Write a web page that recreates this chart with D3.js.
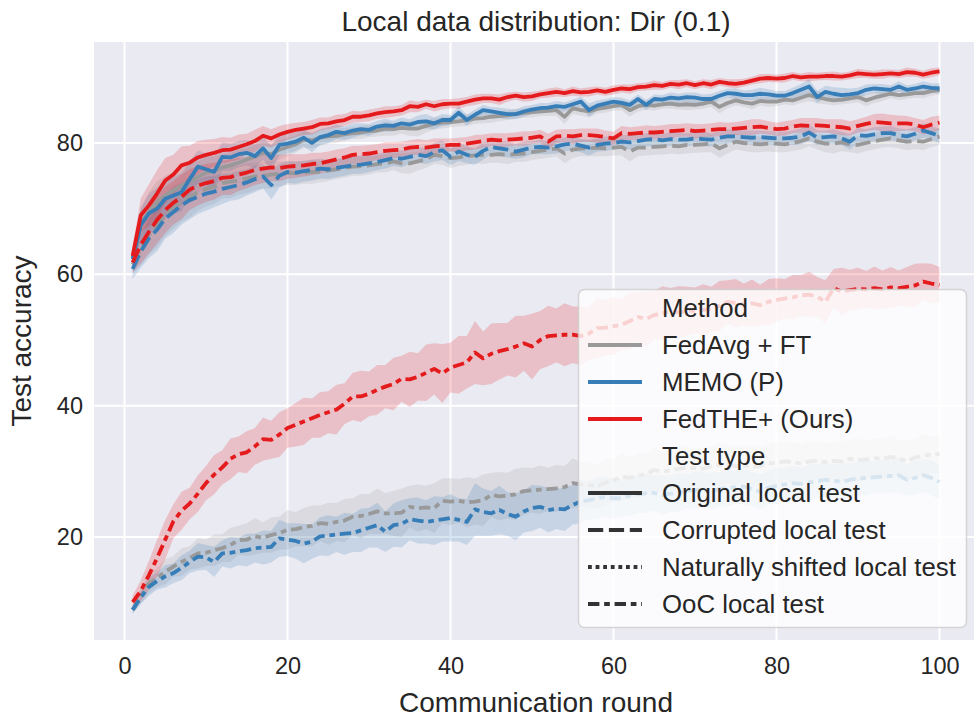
<!DOCTYPE html>
<html><head><meta charset="utf-8">
<script src="https://cdn.jsdelivr.net/npm/d3@7/dist/d3.min.js"></script>
<style>body{margin:0;background:#fff;}svg{display:block;font-family:"Liberation Sans",Arial,sans-serif;}</style>
</head><body><svg id="c" width="974" height="717"></svg>
<script>
const rounds = d3.range(1, 101);
const methods = ["FedAvg + FT", "MEMO (P)", "FedTHE+ (Ours)"];
const methodColors = ["#999999", "#377eb8", "#e41a1c"];
const testTypes = ["Original local test", "Corrupted local test", "Naturally shifted local test", "OoC local test"];
const xTicks = [0, 20, 40, 60, 80, 100];
const yTicks = [20, 40, 60, 80];

const grayOrig = [62.5,67.8,69.5,71.0,72.0,72.8,73.5,74.2,74.8,75.5,75.8,76.3,76.6,77.0,77.5,77.9,78.5,78.3,79.0,79.4,79.8,80.5,80.4,80.8,81.0,81.1,81.3,81.5,81.6,81.8,81.9,82.2,82.1,82.3,82.2,82.2,82.6,82.9,83.1,83.2,83.3,83.5,83.7,83.8,84.0,84.1,84.2,84.4,84.6,84.7,84.8,84.9,85.0,84.0,85.3,85.0,84.8,85.2,85.4,85.6,85.8,85.0,85.6,85.8,85.7,85.9,86.0,85.8,85.9,85.8,86.0,86.3,85.5,86.1,86.5,86.2,86.0,86.4,86.3,86.3,86.6,86.5,86.9,87.3,87.0,86.7,86.5,86.6,86.8,87.0,86.5,86.9,87.2,87.5,87.3,87.4,87.6,87.6,87.9,88.1];
const blueOrig = [62.3,67.5,69.3,70.0,71.5,72.0,72.5,74.5,76.4,76.0,75.6,77.9,77.8,78.3,78.5,78.0,79.2,77.7,79.7,79.9,80.2,80.8,80.0,80.9,81.2,81.7,81.5,81.9,82.1,82.0,82.5,82.7,82.6,83.0,82.8,83.2,83.3,83.0,83.5,83.5,84.6,83.5,84.3,85.0,84.8,84.6,84.4,84.4,84.8,85.1,85.3,85.4,85.6,85.5,85.9,86.3,85.0,85.7,86.0,86.3,86.1,85.8,86.7,85.8,86.7,86.6,86.9,86.8,87.0,86.9,86.7,86.7,87.2,87.6,87.5,87.3,87.3,87.5,87.4,87.2,87.2,87.6,88.1,88.6,87.0,87.8,87.5,87.3,87.4,87.6,88.1,88.3,88.2,88.1,88.6,88.1,88.3,88.6,88.4,88.3];
const redOrig = [62.8,69.0,70.5,72.3,74.3,75.2,76.6,77.0,77.8,78.2,78.5,78.9,79.0,79.4,79.8,80.3,81.1,80.7,81.3,81.7,82.0,82.2,82.4,82.9,83.0,83.3,83.5,84.0,84.0,84.2,84.5,84.7,84.8,85.0,85.6,85.5,85.9,85.6,85.9,86.0,86.0,86.3,86.6,86.8,86.8,86.6,87.0,87.2,87.0,87.1,87.4,87.6,87.8,87.6,87.9,87.7,87.8,88.0,87.8,88.1,88.3,88.2,88.5,88.6,88.8,88.7,89.0,88.9,89.1,88.8,89.1,88.9,89.3,89.1,89.0,89.2,89.5,89.8,89.9,89.8,89.9,90.2,90.0,90.1,90.1,90.2,90.2,90.1,90.3,90.6,90.5,90.4,90.5,90.6,90.5,90.8,90.7,90.4,90.7,90.9];

const grayCorr = [61.5,64.0,66.0,67.5,69.0,70.2,71.0,71.8,72.5,73.0,73.3,73.9,74.1,74.3,74.6,74.9,75.0,75.2,75.3,75.4,75.4,75.5,75.6,75.6,75.8,76.0,76.2,76.4,76.5,76.6,76.8,76.9,77.2,76.9,76.9,77.2,77.5,78.2,78.0,77.7,77.8,78.0,78.1,78.2,78.2,78.3,78.2,78.3,78.4,78.6,78.8,79.0,79.2,78.4,79.0,79.2,79.2,79.3,79.2,79.3,79.4,78.7,79.3,79.3,79.4,79.5,79.6,79.5,79.7,79.7,79.8,79.9,79.2,79.7,80.2,80.0,79.9,79.8,79.9,79.9,79.8,80.0,80.3,80.7,80.2,79.9,79.9,80.1,79.8,79.7,80.0,80.3,80.5,80.7,80.4,80.2,80.3,80.2,80.6,81.0];
const blueCorr = [60.8,63.5,65.5,66.8,68.5,69.5,70.5,71.3,71.8,72.3,72.6,73.0,73.3,73.6,74.0,74.5,74.9,73.6,75.0,75.6,75.5,75.7,75.9,76.1,76.0,76.2,76.4,76.6,76.7,76.9,77.1,77.4,77.7,77.6,77.9,78.2,78.0,78.6,78.9,77.9,78.7,78.2,77.9,78.8,79.4,79.2,79.0,78.7,79.0,79.3,79.4,79.3,79.5,79.8,79.9,79.6,79.3,79.7,79.9,80.0,80.2,80.1,80.3,80.5,80.6,80.4,80.6,80.5,80.5,80.7,80.6,80.5,80.8,81.0,81.0,80.9,80.8,80.9,80.8,80.7,80.7,80.8,81.0,81.6,80.8,80.9,81.0,80.7,80.2,81.2,81.1,81.3,81.5,81.5,81.2,81.0,81.4,81.9,81.5,81.1];
const redCorr = [61.8,64.5,66.5,68.3,69.8,70.9,71.8,72.9,73.5,73.9,74.2,74.7,74.8,75.2,75.5,75.9,76.1,76.3,76.2,76.4,76.5,76.6,76.8,76.9,77.2,77.5,77.8,78.2,78.3,78.4,78.6,78.8,78.9,79.0,79.3,79.4,79.3,79.5,79.6,79.7,79.7,79.9,80.1,80.3,80.5,80.4,80.5,80.6,80.7,80.8,81.0,80.2,81.0,81.1,81.0,81.2,81.2,81.1,80.9,80.7,81.5,81.4,81.5,81.6,81.6,81.7,81.8,81.9,82.0,81.8,81.9,82.0,82.1,82.1,82.2,82.3,82.4,82.5,82.3,82.1,82.2,82.5,82.7,82.6,82.7,82.6,82.5,82.4,82.2,82.6,82.9,83.2,83.1,83.0,83.0,83.0,82.8,82.4,82.8,83.1];

const grayOoc = [8.9,11.0,12.9,13.8,14.7,15.5,16.2,16.8,17.5,17.6,18.0,18.3,18.8,19.5,19.6,20.1,19.9,20.3,20.6,21.1,21.2,21.5,21.7,22.1,22.0,22.3,22.5,23.1,23.2,23.5,23.9,23.6,23.6,23.7,24.6,24.4,24.5,24.4,25.5,25.4,25.5,25.3,25.4,25.6,26.4,26.2,26.3,26.5,27.0,27.1,27.2,27.3,27.4,27.6,28.2,28.0,27.9,27.7,28.3,28.6,29.2,29.0,29.3,29.6,30.2,30.0,30.1,30.4,30.5,30.5,30.4,30.8,31.0,31.0,30.8,30.9,30.7,30.8,31.2,31.3,31.5,31.4,31.2,31.5,31.6,31.4,31.6,31.5,31.9,31.7,31.8,32.0,31.9,32.2,32.0,31.5,32.1,32.4,32.5,32.7];
const blueOoc = [8.9,10.8,12.4,13.3,14.0,14.5,15.3,16.2,17.0,16.9,16.2,17.5,17.6,17.8,18.0,18.3,18.4,18.5,19.8,19.6,19.4,19.0,19.3,20.1,20.2,20.4,20.5,20.6,21.0,21.4,21.8,20.8,21.8,22.0,22.7,22.5,22.3,22.5,22.7,22.9,22.6,22.3,24.2,23.8,23.6,24.1,23.5,23.1,23.9,24.4,24.6,24.1,24.3,24.2,24.9,25.4,25.6,25.9,26.1,25.9,25.9,26.3,26.5,26.7,26.7,26.4,26.6,26.8,27.0,27.1,27.2,27.0,27.3,27.5,27.6,27.7,27.3,26.9,27.5,27.8,28.0,28.2,28.1,28.3,28.5,28.7,28.6,28.4,28.7,28.9,29.0,29.1,29.2,29.3,29.4,28.7,29.0,29.4,29.0,28.4];
const redOoc = [10.1,11.8,14.2,16.8,19.6,22.4,24.0,25.1,26.6,28.2,29.5,30.6,31.9,32.6,32.9,33.8,34.9,34.8,35.6,36.6,37.1,37.6,38.1,38.6,39.0,39.4,40.3,41.4,41.4,41.8,42.4,42.9,43.3,44.1,44.0,44.4,45.0,45.6,44.9,45.8,46.2,46.6,48.1,47.2,47.9,48.3,48.6,49.0,49.5,49.0,50.0,50.6,50.7,50.8,50.8,50.6,51.0,51.8,51.9,52.1,52.3,52.9,53.5,53.2,53.8,54.1,54.3,54.2,54.4,54.5,54.6,54.7,55.2,55.8,55.6,55.4,55.6,55.3,55.8,56.1,56.3,56.5,56.8,56.9,56.6,55.8,57.9,57.4,57.6,57.8,57.7,57.9,57.7,58.0,57.9,58.1,58.3,58.9,58.6,58.4];

// confidence band half-widths
const grayOrigCi = [1.5,2.4,3.0,3.2,3.0,2.8,2.9,2.6,2.4,2.3,2.2,2.0,1.9,2.0,1.7,1.8,1.6,1.5,1.5,1.4,1.3,1.3,1.2,1.2,1.1,1.1,1.0,0.9,1.0,0.9,0.9,1.1,1.0,0.9,1.1,1.2,1.0,0.9,0.9,0.8,0.8,0.9,0.8,0.8,0.9,0.8,0.7,0.8,0.7,0.8,0.7,0.8,0.9,1.1,0.9,0.8,0.9,0.7,0.8,0.7,0.8,1.0,0.8,0.7,0.8,0.7,0.8,0.7,0.9,0.7,0.8,0.8,1.0,0.8,0.8,0.7,0.9,0.7,0.8,0.7,0.7,0.8,0.8,0.9,1.0,0.8,0.8,0.7,0.8,0.8,0.9,0.8,0.8,0.7,0.8,0.7,0.7,0.8,0.7,0.7];
const blueOrigCi = [1.5,2.5,3.0,3.2,3.0,2.8,2.9,2.6,2.5,2.4,2.4,2.2,2.1,2.0,1.9,1.8,1.7,1.9,1.6,1.5,1.4,1.3,1.4,1.2,1.2,1.1,1.0,1.1,0.9,0.9,0.9,1.0,0.8,0.9,0.8,1.0,1.1,0.9,0.9,0.8,1.0,0.8,0.8,0.8,0.7,0.8,0.8,0.7,0.8,0.7,0.8,0.7,0.8,0.7,0.7,0.8,1.0,0.8,0.7,0.7,0.8,0.7,0.7,0.8,0.7,0.7,0.8,0.7,0.7,0.8,0.7,0.8,0.7,0.7,0.8,0.7,0.8,0.9,0.8,0.7,0.7,0.8,0.9,1.1,0.9,0.9,1.0,1.1,0.9,0.8,0.8,0.7,0.8,0.7,0.8,0.7,0.7,0.8,0.7,0.8];
const redOrigCi = [1.5,2.6,3.2,3.6,3.4,3.0,2.9,2.6,2.5,2.3,2.1,2.0,1.8,1.9,1.6,1.7,1.5,1.4,1.3,1.2,1.1,1.0,1.1,1.0,0.9,1.0,0.9,0.9,0.8,0.9,0.8,0.9,0.8,0.8,0.9,0.8,0.7,0.8,0.8,0.7,0.8,0.7,0.8,0.7,0.7,0.8,0.7,0.6,0.7,0.7,0.6,0.7,0.7,0.6,0.7,0.6,0.7,0.6,0.6,0.7,0.6,0.7,0.6,0.6,0.7,0.6,0.6,0.7,0.6,0.6,0.6,0.7,0.6,0.6,0.7,0.6,0.6,0.7,0.6,0.6,0.7,0.6,0.6,0.7,0.6,0.6,0.7,0.6,0.6,0.7,0.6,0.6,0.7,0.6,0.6,0.7,0.6,0.6,0.7,0.6];
const grayCorrCi = [1.5,2.6,3.1,3.4,3.2,3.3,3.0,3.1,2.8,2.7,2.6,2.4,2.5,2.2,2.3,2.1,2.0,2.1,1.9,1.8,1.8,1.7,1.8,1.6,1.6,1.5,1.5,1.4,1.5,1.4,1.3,1.4,1.3,1.5,1.6,1.4,1.3,1.4,1.3,1.5,1.3,1.3,1.2,1.4,1.2,1.3,1.4,1.2,1.3,1.2,1.2,1.3,1.2,1.5,1.3,1.2,1.2,1.3,1.2,1.2,1.3,1.5,1.3,1.2,1.2,1.3,1.2,1.2,1.3,1.2,1.2,1.3,1.5,1.3,1.2,1.2,1.3,1.2,1.2,1.3,1.2,1.2,1.3,1.2,1.2,1.3,1.5,1.3,1.2,1.3,1.2,1.3,1.2,1.3,1.2,1.3,1.2,1.3,1.2,1.3];
const blueCorrCi = [1.5,2.5,3.0,3.3,3.1,3.2,2.9,2.9,2.6,2.6,2.4,2.3,2.1,2.2,2.0,2.0,1.8,2.2,1.8,1.7,1.7,1.6,1.6,1.5,1.5,1.4,1.4,1.3,1.4,1.3,1.2,1.3,1.2,1.3,1.1,1.2,1.2,1.4,1.5,1.3,1.4,1.3,1.2,1.3,1.1,1.2,1.2,1.1,1.2,1.0,1.1,1.0,1.1,1.0,1.1,1.0,1.2,1.0,1.1,1.0,1.0,1.1,1.0,1.0,1.1,1.0,1.0,1.1,1.0,1.0,1.1,1.0,1.0,1.1,1.0,1.0,1.1,1.0,1.0,1.1,1.0,1.1,1.2,1.3,1.1,1.0,1.1,1.0,1.2,1.1,1.0,1.1,1.0,1.1,1.0,1.1,1.0,1.1,1.0,1.1];
const redCorrCi = [1.5,2.8,3.3,3.6,3.5,3.3,3.4,3.1,3.0,2.9,2.8,2.6,2.7,2.5,2.4,2.3,2.2,2.1,2.0,1.9,1.8,1.7,1.7,1.6,1.5,1.5,1.4,1.4,1.3,1.3,1.2,1.3,1.2,1.2,1.1,1.2,1.1,1.2,1.1,1.0,1.1,1.0,1.1,1.0,1.0,1.1,1.0,1.0,1.1,1.0,1.0,1.2,1.0,1.0,1.1,1.0,1.0,1.1,1.0,1.0,1.1,1.0,1.0,1.1,1.0,1.0,1.1,1.0,1.0,1.1,1.0,1.0,1.1,1.0,1.0,1.1,1.2,1.1,1.0,1.0,1.1,1.0,1.1,1.2,1.1,1.0,1.1,1.2,1.1,1.0,1.1,1.2,1.4,1.3,1.2,1.1,1.0,1.1,1.2,1.1];
const grayOocCi = [0.6,1.1,1.5,1.4,1.9,1.6,2.1,1.8,2.3,2.0,2.4,2.1,2.6,2.2,2.5,2.8,2.3,2.7,2.5,3.0,2.6,2.9,3.1,2.7,3.2,2.9,3.3,2.8,3.4,3.0,3.5,3.1,3.4,3.7,3.2,3.6,3.3,3.8,3.4,3.6,3.3,3.8,3.5,3.9,3.4,3.7,3.5,3.9,3.6,3.4,3.7,3.3,3.6,3.2,3.8,3.4,3.6,3.3,3.5,3.2,3.6,3.1,3.4,3.2,3.5,3.0,3.3,3.1,3.4,2.9,3.2,3.0,3.3,2.9,3.1,2.8,3.2,2.9,3.0,3.2,2.8,3.1,2.9,3.2,2.8,3.0,2.7,3.1,2.9,3.3,2.8,3.0,2.9,3.2,2.7,3.1,2.9,3.3,2.8,3.0];
const blueOocCi = [0.6,1.0,1.4,1.3,1.7,1.5,1.9,1.7,2.1,1.9,2.3,2.0,2.4,2.1,2.5,2.2,2.6,2.4,2.8,2.5,2.7,3.0,2.6,2.9,3.1,2.7,3.2,2.9,3.3,3.0,3.4,3.1,3.3,3.6,3.2,3.5,3.3,3.7,3.4,3.6,3.3,3.5,4.0,3.6,3.4,3.7,3.3,3.6,3.2,3.5,3.2,3.4,3.1,3.3,3.0,3.3,2.9,3.2,3.0,3.1,2.8,3.1,2.9,3.0,2.7,3.0,2.8,2.9,2.6,2.9,2.7,2.8,2.6,2.9,2.5,2.8,2.6,2.7,2.5,2.8,2.6,2.7,2.5,2.8,2.6,2.7,2.5,2.8,2.6,2.5,2.7,2.4,2.6,2.5,2.7,2.4,2.6,2.5,2.7,2.6];
const redOocCi = [1.0,1.6,2.2,2.8,3.0,2.6,2.9,2.4,2.8,2.6,3.0,2.6,3.1,2.7,3.2,2.8,3.3,2.9,3.4,3.0,3.3,3.6,3.0,3.5,3.2,3.8,3.1,3.6,3.9,3.4,3.8,3.3,4.0,3.5,4.2,3.6,4.3,3.9,4.5,3.8,4.4,4.0,4.8,4.1,4.6,4.3,4.0,4.7,4.2,5.0,4.4,4.6,4.1,4.8,4.3,4.5,4.0,4.6,4.2,4.4,3.9,4.3,3.8,4.2,3.7,4.1,3.6,4.0,3.7,3.5,3.9,3.4,3.8,3.3,3.7,3.2,3.6,3.1,3.5,3.3,3.0,3.4,3.1,3.5,3.0,3.3,2.9,3.6,3.1,3.2,2.8,3.3,2.9,3.1,2.7,3.0,3.3,2.8,3.0,2.7];

// series table (method index, test type index, values, ci)
const series = [
  {m:0, t:0, v:grayOrig, ci:grayOrigCi},
  {m:0, t:1, v:grayCorr, ci:grayCorrCi},
  {m:0, t:3, v:grayOoc, ci:grayOocCi},
  {m:1, t:0, v:blueOrig, ci:blueOrigCi},
  {m:1, t:1, v:blueCorr, ci:blueCorrCi},
  {m:1, t:3, v:blueOoc, ci:blueOocCi},
  {m:2, t:0, v:redOrig, ci:redOrigCi},
  {m:2, t:1, v:redCorr, ci:redCorrCi},
  {m:2, t:3, v:redOoc, ci:redOocCi}
];

const LW = 3.8;
const dashFor = t => [null, [4*LW,1.5*LW], [1*LW,1*LW], [3*LW,1.25*LW,1.5*LW,1.25*LW]][t];

const plot = {l:94, t:42, r:978, b:640};
const x = d3.scaleLinear().domain([0,100]).range([124.5, 939.5]);
const y = d3.scaleLinear().domain([20,80]).range([537, 143]);
const txt = "#262626";

const svg = d3.select("#c");
svg.append("defs").append("clipPath").attr("id","clip")
  .append("rect").attr("x",plot.l).attr("y",plot.t).attr("width",plot.r-plot.l).attr("height",plot.b-plot.t);

svg.append("rect").attr("x",plot.l).attr("y",plot.t).attr("width",plot.r-plot.l).attr("height",plot.b-plot.t).attr("fill","#eaeaf2");

// grid
const g = svg.append("g").attr("clip-path","url(#clip)");
g.selectAll(".gx").data(xTicks).join("line").attr("x1",d=>x(d)).attr("x2",d=>x(d)).attr("y1",plot.t).attr("y2",plot.b).attr("stroke","#fff").attr("stroke-width",2);
g.selectAll(".gy").data(yTicks).join("line").attr("y1",d=>y(d)).attr("y2",d=>y(d)).attr("x1",plot.l).attr("x2",plot.r).attr("stroke","#fff").attr("stroke-width",2);

// bands
const area = d3.area().x((d,i)=>x(rounds[i])).y0(d=>y(d[0])).y1(d=>y(d[1]));
series.forEach(s=>{
  const pts = s.v.map((v,i)=>[v - s.ci[i], v + s.ci[i]]);
  g.append("path").attr("d", area(pts)).attr("fill", methodColors[s.m]).attr("fill-opacity",0.2).attr("stroke","none");
});
// lines
const line = d3.line().x((d,i)=>x(rounds[i])).y(d=>y(d));
series.forEach(s=>{
  const p = g.append("path").attr("d", line(s.v)).attr("fill","none").attr("stroke", methodColors[s.m])
    .attr("stroke-width", LW).attr("stroke-linejoin","round").attr("stroke-linecap","butt");
  const da = dashFor(s.t); if (da) p.attr("stroke-dasharray", da.join(","));
});

// axes
const xAxis = svg.append("g").attr("transform",`translate(0,${plot.b})`)
  .call(d3.axisBottom(x).tickValues(xTicks).tickSize(0).tickPadding(17));
xAxis.select(".domain").remove();
xAxis.selectAll("text").attr("font-size","23.5px").attr("fill",txt).attr("font-family","Liberation Sans, Arial, sans-serif");
const yAxis = svg.append("g").attr("transform",`translate(${plot.l},0)`)
  .call(d3.axisLeft(y).tickValues(yTicks).tickSize(0).tickPadding(11));
yAxis.select(".domain").remove();
yAxis.selectAll("text").attr("font-size","23.5px").attr("fill",txt).attr("font-family","Liberation Sans, Arial, sans-serif");

// labels
svg.append("text").attr("x",(plot.l+plot.r)/2).attr("y",31).attr("text-anchor","middle").attr("font-size","28px").attr("fill",txt).text("Local data distribution: Dir (0.1)");
svg.append("text").attr("x",(plot.l+plot.r)/2).attr("y",712).attr("text-anchor","middle").attr("font-size","28px").attr("fill",txt).text("Communication round");
svg.append("text").attr("transform",`translate(31,${(plot.t+plot.b)/2}) rotate(-90)`).attr("text-anchor","middle").attr("font-size","28px").attr("fill",txt).text("Test accuracy");

// legend
const leg = svg.append("g");
leg.append("rect").attr("x",578.5).attr("y",289.5).attr("width",388).attr("height",338).attr("rx",6)
  .attr("fill","#ffffff").attr("fill-opacity",0.8).attr("stroke","#cccccc").attr("stroke-opacity",0.8).attr("stroke-width",1.5);
const entries = [
  {label:"Method"},
  ...methods.map((m,i)=>({label:m, color:methodColors[i], t:0})),
  {label:"Test type"},
  ...testTypes.map((t,i)=>({label:t, color:"#333333", t:i}))
];
entries.forEach((e,i)=>{
  const cy = 308 + i*37;
  if (e.color) {
    const l = leg.append("line").attr("x1",588).attr("x2",642).attr("y1",cy).attr("y2",cy)
      .attr("stroke",e.color).attr("stroke-width",LW);
    const da = dashFor(e.t); if (da) l.attr("stroke-dasharray", da.join(","));
  }
  leg.append("text").attr("x",662).attr("y",cy).attr("dy","0.35em").attr("font-size","25.8px").attr("fill",txt).text(e.label);
});
</script></body></html>
